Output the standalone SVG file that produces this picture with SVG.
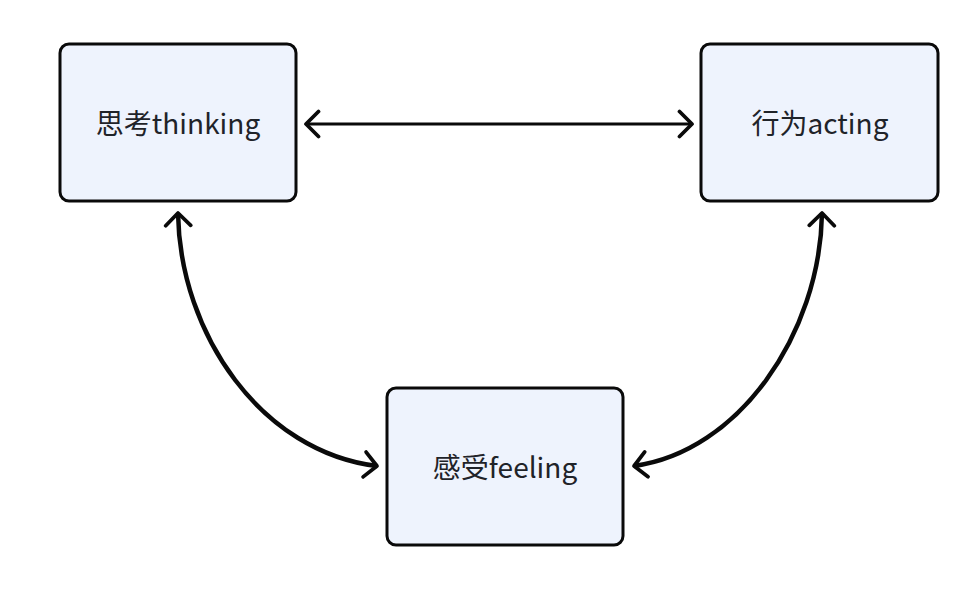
<svg xmlns="http://www.w3.org/2000/svg" width="962" height="604" viewBox="0 0 962 604">
<style>
.box{fill:#EEF3FD;stroke:#0a0a0a;stroke-width:3}
.lbl{font-family:"Noto Sans CJK SC","Noto Sans",sans-serif;font-size:28px;fill:#1f2329;text-anchor:middle;dominant-baseline:central}
.con{fill:none;stroke:#0a0a0a;stroke-width:3;marker-start:url(#ah);marker-end:url(#ah)}
.curve{stroke-width:4.5}
</style>
<defs>
<marker id="ah" markerUnits="userSpaceOnUse" markerWidth="30" markerHeight="30" refX="12" refY="12" orient="auto-start-reverse" viewBox="0 0 24 24">
<path d="M2,2 L12,12 L2,22" fill="none" stroke="#0a0a0a" stroke-width="3" stroke-linecap="round" stroke-linejoin="round"/>
</marker>
</defs>
<g id="connectors">
<path class="con" d="M306,124 L692,124"/>
<path class="con curve" d="M178,213 C180,335 262,452 377,466"/>
<path class="con curve" d="M822,213 C820,335 738,452 634,466"/>
</g>
<g id="thinking">
<rect class="box" x="60" y="44" width="236" height="157" rx="9"/>
<text class="lbl" x="178" y="122">思考thinking</text>
</g>
<g id="acting">
<rect class="box" x="701" y="44" width="237" height="157" rx="9"/>
<text class="lbl" x="820" y="122">行为acting</text>
</g>
<g id="feeling">
<rect class="box" x="387" y="388" width="236" height="157" rx="9"/>
<text class="lbl" x="505" y="466">感受feeling</text>
</g>
</svg>
